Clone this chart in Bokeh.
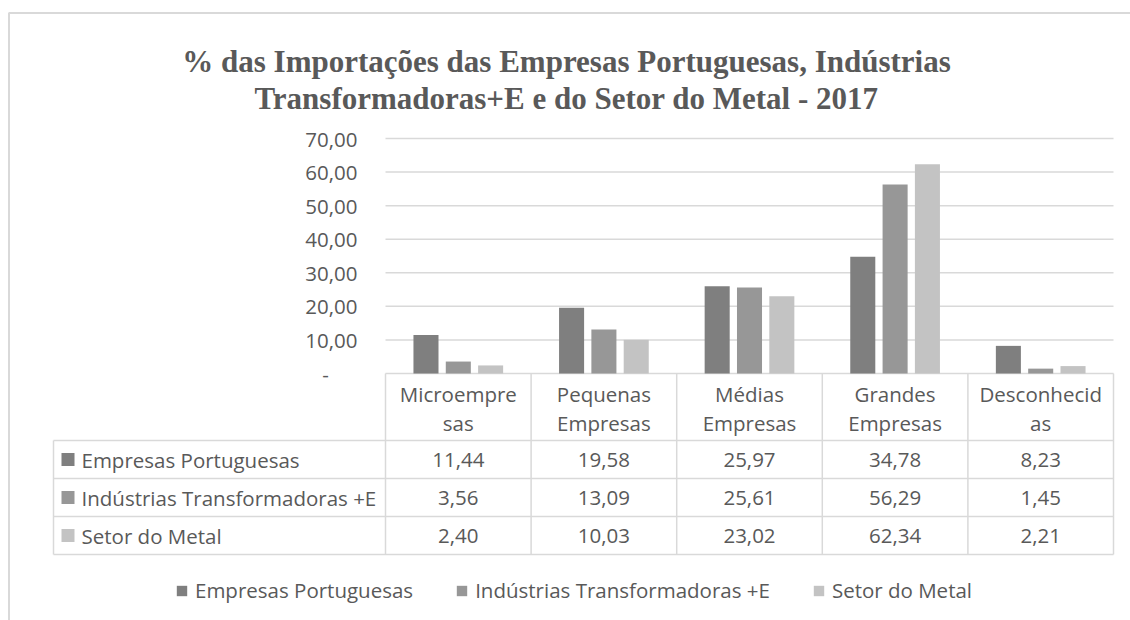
from bokeh.plotting import figure
from bokeh.models import (Range1d, LinearAxis, FixedTicker, CustomJSTickFormatter,
                          Legend, LegendItem, ColumnDataSource)
from bokeh.core.properties import value
from bokeh.embed import file_html
from bokeh.resources import INLINE

# ---------------- data ----------------
categories = ["Microempresas", "Pequenas Empresas", "Médias Empresas",
              "Grandes Empresas", "Desconhecidas"]
header_line_1 = ["Microempre", "Pequenas", "Médias", "Grandes", "Desconhecid"]
header_line_2 = ["sas", "Empresas", "Empresas", "Empresas", "as"]
series_names = ["Empresas Portuguesas", "Indústrias Transformadoras +E", "Setor do Metal"]
empresas_portuguesas = [11.44, 19.58, 25.97, 34.78, 8.23]
industrias_transformadoras = [3.56, 13.09, 25.61, 56.29, 1.45]
setor_metal = [2.40, 10.03, 23.02, 62.34, 2.21]
y_ticks = [0, 10, 20, 30, 40, 50, 60, 70]
title_lines = ["% das Importações das Empresas Portuguesas, Indústrias",
               "Transformadoras+E e do Setor do Metal - 2017"]

series_values = [empresas_portuguesas, industrias_transformadoras, setor_metal]
colors = ["#7f7f7f", "#979797", "#c3c3c3"]

# ---------------- layout (pixels of the page) ----------------
W, H = 1130, 620
OFF = 0
CAT_PX = 145.6          # width of one category column
X0 = 385                # left edge of plot area
Y0 = 373                # pixel of value 0
UNIT_PX = 235.0 / 70.0  # pixels per value unit
STEP = 0.222
BAR_W = 0.172
TEXT = "#595959"
LINE = "#d9d9d9"
FONT = "Open Sans"
FS = "20.5px"


def xd(px):
    return (px - X0) / CAT_PX


def yd(py):
    return (Y0 - py) / UNIT_PX


p = figure(width=W, height=H,
           x_range=Range1d(xd(OFF), xd(OFF + W)),
           y_range=Range1d(yd(OFF + H), yd(OFF)),
           min_border=0, x_axis_location=None, y_axis_location=None,
           toolbar_location=None, output_backend="svg")
p.outline_line_color = None
p.background_fill_color = "white"
p.border_fill_color = "white"
for g in list(p.grid):
    g.visible = False

n = len(categories)

# horizontal gridlines over the plot area only
p.segment(x0=[0.0] * len(y_ticks), y0=y_ticks, x1=[float(n)] * len(y_ticks), y1=y_ticks,
          line_color=LINE, line_width=1.5)

# y axis
yaxis = LinearAxis(fixed_location=0, ticker=FixedTicker(ticks=y_ticks),
                   formatter=CustomJSTickFormatter(
                       code='return tick == 0 ? "-\\u2007\\u2007\\u00a0" : tick.toFixed(2).replace(".", ",");'))
yaxis.axis_line_color = None
yaxis.major_tick_line_color = None
yaxis.minor_tick_line_color = None
yaxis.major_tick_in = 0
yaxis.major_tick_out = 0
yaxis.major_label_standoff = 28
yaxis.major_label_text_font = FONT
yaxis.major_label_text_font_size = FS
yaxis.major_label_text_color = TEXT
p.add_layout(yaxis, "left")

# bars
renderers = []
for k, (vals, col) in enumerate(zip(series_values, colors)):
    src = ColumnDataSource(dict(x=[i + 0.5 + (k - 1) * STEP for i in range(n)], top=vals))
    r = p.vbar(x="x", top="top", bottom=0, width=BAR_W, source=src,
               fill_color=col, line_color=None)
    renderers.append(r)

# ---------------- data table ----------------
HEADER_PX = 67
ROW_PX = 38
TABLE_LEFT = 53
row_tops = [Y0 + HEADER_PX + ROW_PX * k for k in range(len(series_names) + 1)]
bottom = row_tops[-1]

# vertical lines
vx = [float(i) for i in range(n + 1)]
p.segment(x0=vx, y0=[0] * len(vx), x1=vx, y1=[yd(bottom)] * len(vx),
          line_color=LINE, line_width=1.5)
p.segment(x0=[xd(TABLE_LEFT)], y0=[yd(row_tops[0])], x1=[xd(TABLE_LEFT)], y1=[yd(bottom)],
          line_color=LINE, line_width=1.5)
# horizontal lines
hy = [yd(t) for t in row_tops]
p.segment(x0=[xd(TABLE_LEFT)] * len(hy), y0=hy, x1=[float(n)] * len(hy), y1=hy,
          line_color=LINE, line_width=1.5)

centers = [i + 0.5 for i in range(n)]
p.text(x=centers, y=[yd(Y0 + 20)] * n, text=header_line_1, text_align="center",
       text_baseline="middle", text_font=value(FONT), text_font_size=FS, text_color=TEXT)
p.text(x=centers, y=[yd(Y0 + 49)] * n, text=header_line_2, text_align="center",
       text_baseline="middle", text_font=value(FONT), text_font_size=FS, text_color=TEXT)

for k, (name, vals, col) in enumerate(zip(series_names, series_values, colors)):
    yc = yd(row_tops[k] + ROW_PX / 2)
    p.text(x=centers, y=[yc] * n, text=[f"{v:.2f}".replace(".", ",") for v in vals],
           text_align="center", text_baseline="middle", text_font=value(FONT),
           text_font_size=FS, text_color=TEXT)
    p.scatter(x=[xd(67.5)], y=[yc], marker="square", size=13, fill_color=col, line_color=None)
    p.text(x=[xd(81)], y=[yc], text=[name], text_align="left", text_baseline="middle",
           text_font=value(FONT), text_font_size=FS, text_color=TEXT)

# ---------------- title ----------------
p.text(x=[xd(566)] * 2, y=[yd(61), yd(98)], text=title_lines, text_align="center",
       text_baseline="alphabetic", text_font=value("Liberation Serif"), text_font_style="bold",
       text_font_size="31px", text_color=TEXT)

# ---------------- chart border (top & left) ----------------
p.segment(x0=[xd(8), xd(8.5)], y0=[yd(12.5), yd(12.5)], x1=[xd(1130), xd(8.5)], y1=[yd(12.5), yd(620)],
          line_color=LINE, line_width=2)

# ---------------- legend ----------------
legend = Legend(items=[LegendItem(label=nm, renderers=[r]) for nm, r in zip(series_names, renderers)],
                orientation="horizontal", location=(175, 16), glyph_width=13, glyph_height=13,
                label_standoff=7, spacing=42, padding=0, margin=0,
                border_line_color=None, background_fill_alpha=0,
                label_text_font=FONT, label_text_font_size=FS, label_text_color=TEXT)
p.add_layout(legend)

open("out.html", "w").write(file_html(p, INLINE))
